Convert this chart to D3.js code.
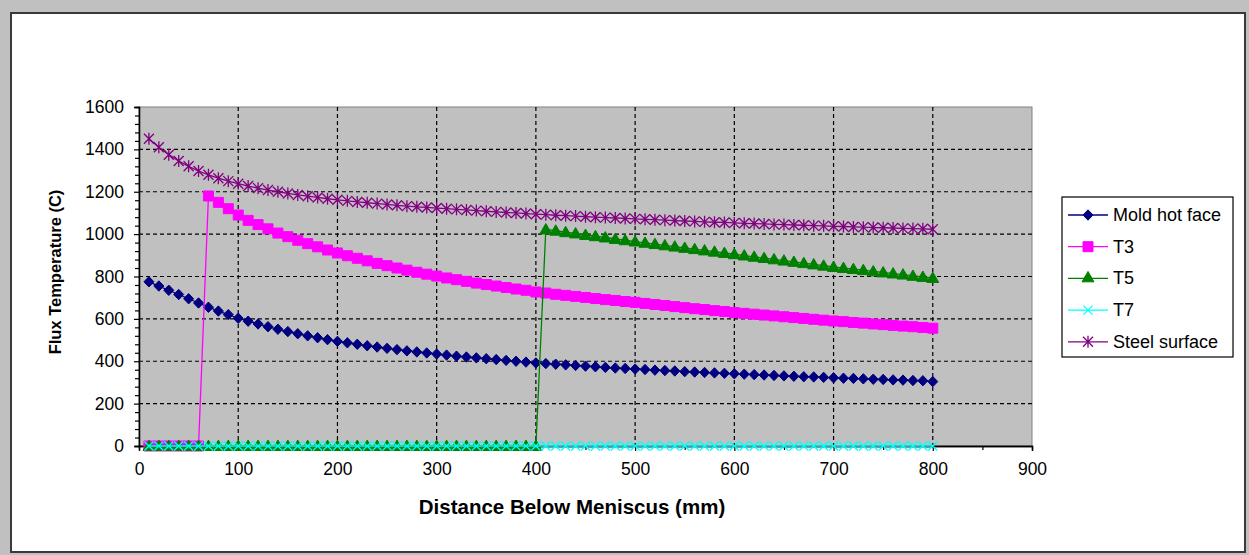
<!DOCTYPE html>
<html><head><meta charset="utf-8">
<script src="https://cdn.jsdelivr.net/npm/d3@7/dist/d3.min.js"></script>
<style>body{margin:0;background:#c0c0c0;}svg{display:block;font-family:"Liberation Sans",Arial,sans-serif;}</style>
</head><body>
<svg id="c" width="1249" height="555"></svg>
<script>
const distances = [10,20,30,40,50,60,70,80,90,100,110,120,130,140,150,160,170,180,190,200,210,220,230,240,250,260,270,280,290,300,310,320,330,340,350,360,370,380,390,400,410,420,430,440,450,460,470,480,490,500,510,520,530,540,550,560,570,580,590,600,610,620,630,640,650,660,670,680,690,700,710,720,730,740,750,760,770,780,790,800];
const moldHotFace = [775,755,735,715,695,675,655,637,620,603,589,576,563,551,540,530,520,511,502,494,487,480,473,467,461,455,449,444,439,434,429,424,420,416,412,408,404,400,396,392,389,386,383,380,377,374,371,368,366,363,361,358,356,354,351,349,347,345,343,341,339,337,335,333,331,329,327,326,324,322,320,319,317,315,314,312,311,309,308,304];
const t3 = [0,0,0,0,0,0,1180,1150,1120,1090,1065,1045,1025,1005,988,971,955,940,925,911,898,886,874,862,851,840,830,820,811,802,793,785,777,769,762,755,748,741,735,727,722,716,711,706,701,696,691,687,682,678,673,668,663,658,653,648,644,639,635,630,626,622,618,614,610,606,602,598,594,590,587,583,580,576,573,569,566,563,559,556];
const t5 = [0,0,0,0,0,0,0,0,0,0,0,0,0,0,0,0,0,0,0,0,0,0,0,0,0,0,0,0,0,0,0,0,0,0,0,0,0,0,0,0,1022,1016,1009,1003,996,990,984,977,971,965,959,953,947,941,935,929,923,917,911,905,899,893,887,881,875,869,863,857,851,845,840,835,830,824,819,814,809,803,798,793];
const t7 = [0,0,0,0,0,0,0,0,0,0,0,0,0,0,0,0,0,0,0,0,0,0,0,0,0,0,0,0,0,0,0,0,0,0,0,0,0,0,0,0,0,0,0,0,0,0,0,0,0,0,0,0,0,0,0,0,0,0,0,0,0,0,0,0,0,0,0,0,0,0,0,0,0,0,0,0,0,0,0,0];
const steelSurface = [1450,1410,1375,1345,1320,1298,1280,1264,1250,1238,1227,1217,1208,1200,1192,1185,1179,1173,1167,1162,1157,1152,1148,1144,1140,1136,1132,1129,1126,1123,1120,1117,1114,1111,1108,1105,1102,1100,1097,1094,1092,1089,1087,1085,1082,1080,1078,1076,1074,1072,1070,1068,1066,1064,1062,1060,1058,1056,1055,1053,1051,1050,1048,1046,1045,1043,1042,1040,1039,1037,1036,1034,1033,1031,1030,1029,1027,1026,1025,1023];
const seriesNames = ["Mold hot face","T3","T5","T7","Steel surface"];
const seriesColors = ["#000080","#ff00ff","#008000","#00ffff","#800080"];
const seriesMarkers = ["diamond","square","triangle","x","star"];
const xTicks = [0,100,200,300,400,500,600,700,800,900];
const yTicks = [0,200,400,600,800,1000,1200,1400,1600];
const xTitle = "Distance Below Meniscus (mm)";
const yTitle = "Flux Temperature (C)";

const seriesValues = [moldHotFace,t3,t5,t7,steelSurface];
const svg = d3.select("#c");

// chart area frame
svg.append("rect").attr("x",11).attr("y",13).attr("width",1234).attr("height",539)
  .attr("fill","#fff").attr("stroke","#3a3a3a").attr("stroke-width",2);

const L=139,R=1032,T=107,B=446;
const x = d3.scaleLinear().domain([0,900]).range([L,R]);
const y = d3.scaleLinear().domain([0,1600]).range([B,T]);

svg.append("rect").attr("x",L).attr("y",T).attr("width",R-L).attr("height",B-T)
  .attr("fill","#c0c0c0").attr("stroke","#808080").attr("stroke-width",1);

// gridlines
const g = svg.append("g");
g.selectAll("line.vx").data(xTicks.filter(d=>d>0&&d<900)).join("line")
  .attr("x1",d=>x(d)).attr("x2",d=>x(d)).attr("y1",T).attr("y2",B)
  .attr("stroke","#000").attr("stroke-width",1.2).attr("stroke-dasharray","4,3");
g.selectAll("line.hy").data(yTicks.filter(d=>d>0&&d<1600)).join("line")
  .attr("x1",L).attr("x2",R).attr("y1",d=>y(d)).attr("y2",d=>y(d))
  .attr("stroke","#000").attr("stroke-width",1.2).attr("stroke-dasharray","4,3");

// axes
const xAxis = d3.axisBottom(x).tickValues(xTicks).tickSize(5).tickPadding(12).tickFormat(d3.format("d"));
const xMinor = d3.axisBottom(x).tickValues(d3.range(50,900,100)).tickSize(4).tickFormat("");
const yAxis = d3.axisLeft(y).tickValues(yTicks).tickSize(5).tickPadding(10).tickFormat(d3.format("d"));
const yMinor = d3.axisLeft(y).tickValues(d3.range(40,1600,40).filter(v=>v%200!==0)).tickSize(4).tickFormat("");

function styleAxis(sel){
  sel.select(".domain").attr("stroke","#000").attr("stroke-width",1.3);
  sel.selectAll(".tick line").attr("stroke","#000").attr("stroke-width",1.2);
  sel.selectAll("text").attr("font-size","17.5px").attr("fill","#000").attr("font-family","Liberation Sans, Arial, sans-serif");
}
svg.append("g").attr("transform",`translate(0,${B})`).call(xMinor).call(styleAxis);
svg.append("g").attr("transform",`translate(0,${B})`).call(xAxis).call(styleAxis);
svg.append("g").attr("transform",`translate(${L},0)`).call(yMinor).call(styleAxis);
svg.append("g").attr("transform",`translate(${L},0)`).call(yAxis).call(styleAxis);

// markers
function markerPath(kind){
  switch(kind){
    case "diamond": return "M0,-5.2L5,0L0,5.2L-5,0Z";
    case "square": return d3.symbol(d3.symbolSquare, 100)();
    case "triangle": return d3.symbol(d3.symbolTriangle, 62)();
    case "x": return "M-4.5,-4.5L4.5,4.5M-4.5,4.5L4.5,-4.5";
    case "star": return "M-5,-5L5,5M-5,5L5,-5M0,-6L0,6";
  }
}
function drawMarker(sel, kind, color){
  const filled = (kind==="diamond"||kind==="square"||kind==="triangle");
  sel.attr("d", markerPath(kind))
    .attr("fill", filled?color:"none")
    .attr("stroke", color)
    .attr("stroke-width", filled?1:1.3);
}

const line = d3.line().x(d=>x(d[0])).y(d=>y(d[1]));
seriesValues.forEach((vals,i)=>{
  const pts = distances.map((d,j)=>[d,vals[j]]);
  const sg = svg.append("g");
  sg.append("path").datum(pts).attr("d",line).attr("fill","none")
    .attr("stroke",seriesColors[i]).attr("stroke-width",1.3);
  sg.selectAll("path.m").data(pts).join("path").attr("class","m")
    .attr("transform",d=>`translate(${x(d[0])},${y(d[1])})${seriesMarkers[i]==="triangle"?" translate(0,1)":""}`)
    .call(s=>drawMarker(s,seriesMarkers[i],seriesColors[i]));
});

// titles
svg.append("text").attr("x",572).attr("y",514).attr("text-anchor","middle")
  .attr("font-size","20.5px").attr("font-weight","bold").text(xTitle);
svg.append("text").attr("transform",`translate(61,272) rotate(-90)`).attr("text-anchor","middle")
  .attr("font-size","16.5px").attr("font-weight","bold").text(yTitle);

// legend
const lg = svg.append("g");
lg.append("rect").attr("x",1062).attr("y",197).attr("width",171).attr("height",160)
  .attr("fill","#fff").attr("stroke","#000").attr("stroke-width",1.2);
seriesNames.forEach((n,i)=>{
  const ly = 215 + i*31.7;
  lg.append("line").attr("x1",1068).attr("x2",1108).attr("y1",ly).attr("y2",ly)
    .attr("stroke",seriesColors[i]).attr("stroke-width",1.3);
  lg.append("path").attr("transform",`translate(1088,${ly})`).call(s=>drawMarker(s,seriesMarkers[i],seriesColors[i]));
  lg.append("text").attr("x",1113).attr("y",ly+6).attr("font-size","18px").text(n);
});
</script>
</body></html>
